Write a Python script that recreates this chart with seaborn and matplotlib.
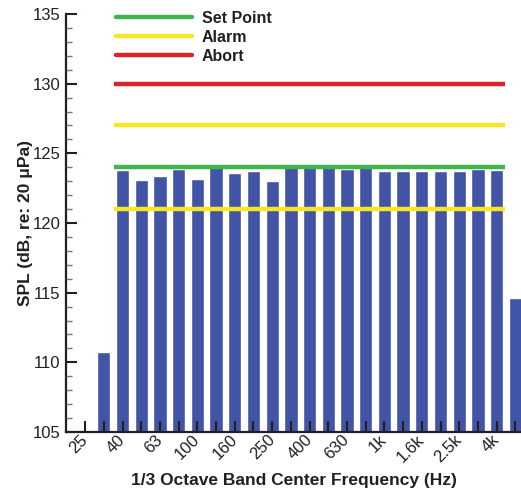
import numpy as np
import pandas as pd
import matplotlib
matplotlib.use("Agg")
import matplotlib.pyplot as plt
from matplotlib.lines import Line2D
from matplotlib.ticker import MultipleLocator
import seaborn as sns

bands = ["25", "31.5", "40", "50", "63", "80", "100", "125", "160", "200", "250",
         "315", "400", "500", "630", "800", "1k", "1.25k", "1.6k", "2k", "2.5k",
         "3.15k", "4k", "5k"]
spl = [np.nan, 110.75, 123.8, 123.1, 123.4, 123.85, 123.15, 124.2, 123.6, 123.7,
       123.0, 124.1, 124.1, 124.2, 123.9, 124.1, 123.75, 123.75, 123.75, 123.75,
       123.75, 123.9, 123.8, 114.6]
tick_labels = ["25", "", "40", "", "63", "", "100", "", "160", "", "250", "",
               "400", "", "630", "", "1k", "", "1.6k", "", "2.5k", "", "4k", ""]

set_point = 124.0
alarm_levels = [127.0, 121.0]
abort_level = 130.0
line_start_band = "40"
line_end_band = "4k"

sns.set_style("white")
plt.rcParams['font.family'] = ['Liberation Sans', 'DejaVu Sans']

fig = plt.figure(figsize=(5.21, 4.94), dpi=100)
ax = fig.add_axes([66/521, 62/494, 455/521, 418/494])

df = pd.DataFrame({"band": bands, "spl": spl})
sns.barplot(data=df, x="band", y="spl", order=bands, color="#4254a5",
            saturation=1, width=0.71, errorbar=None, ax=ax, zorder=2)

i0 = bands.index(line_start_band) - 0.45
i1 = bands.index(line_end_band) + 0.45
lw = 3.2
ax.hlines(set_point, i0, i1, color="#3fb64b", lw=lw, zorder=4)
for a in alarm_levels:
    ax.hlines(a, i0, i1, color="#f6e624", lw=lw, zorder=3)
ax.hlines(abort_level, i0, i1, color="#d8252c", lw=lw, zorder=3)

ax.set_axisbelow(False)
ax.set_ylim(105, 135)
ax.set_xlim(-1.02, 23.3)
ax.yaxis.set_major_locator(MultipleLocator(5))
ax.yaxis.set_minor_locator(MultipleLocator(1))
ax.set_xticks(range(len(bands)))
ax.set_xticklabels(tick_labels, rotation=45, ha="right", va="center",
                   rotation_mode="anchor", fontsize=12, color="#231f20")
ax.tick_params(axis="x", which="major", direction="in", length=8, width=1.5,
               color="#231f20", pad=4, bottom=True)
ax.tick_params(axis="y", which="major", direction="in", length=8, width=1.5,
               color="#231f20", labelsize=12, labelcolor="#231f20", pad=4, left=True)
ax.tick_params(axis="y", which="minor", direction="in", length=4.5, width=1,
               color="#777777", left=True)

for s in ["top", "right"]:
    ax.spines[s].set_visible(False)
for s in ["left", "bottom"]:
    ax.spines[s].set_linewidth(1.6)
    ax.spines[s].set_color("#231f20")

ax.set_xlabel("1/3 Octave Band Center Frequency (Hz)", fontsize=12.5,
              fontweight="bold", color="#231f20", labelpad=6)
ax.set_ylabel("SPL (dB, re: 20 μPa)", fontsize=12.5, fontweight="bold",
              color="#231f20", labelpad=0)

handles = [Line2D([], [], color="#3fb64b", lw=lw),
           Line2D([], [], color="#f6e624", lw=lw),
           Line2D([], [], color="#d8252c", lw=lw)]
leg = ax.legend(handles, ["Set Point", "Alarm", "Abort"], loc="upper left",
                bbox_to_anchor=(0.109, 1.008), frameon=False, borderpad=0,
                borderaxespad=0, handlelength=4.8, handletextpad=0.6,
                labelspacing=0.25, prop={"weight": "bold", "size": 11.5})
for t in leg.get_texts():
    t.set_color("#231f20")

fig.savefig("out.png", dpi=100)
